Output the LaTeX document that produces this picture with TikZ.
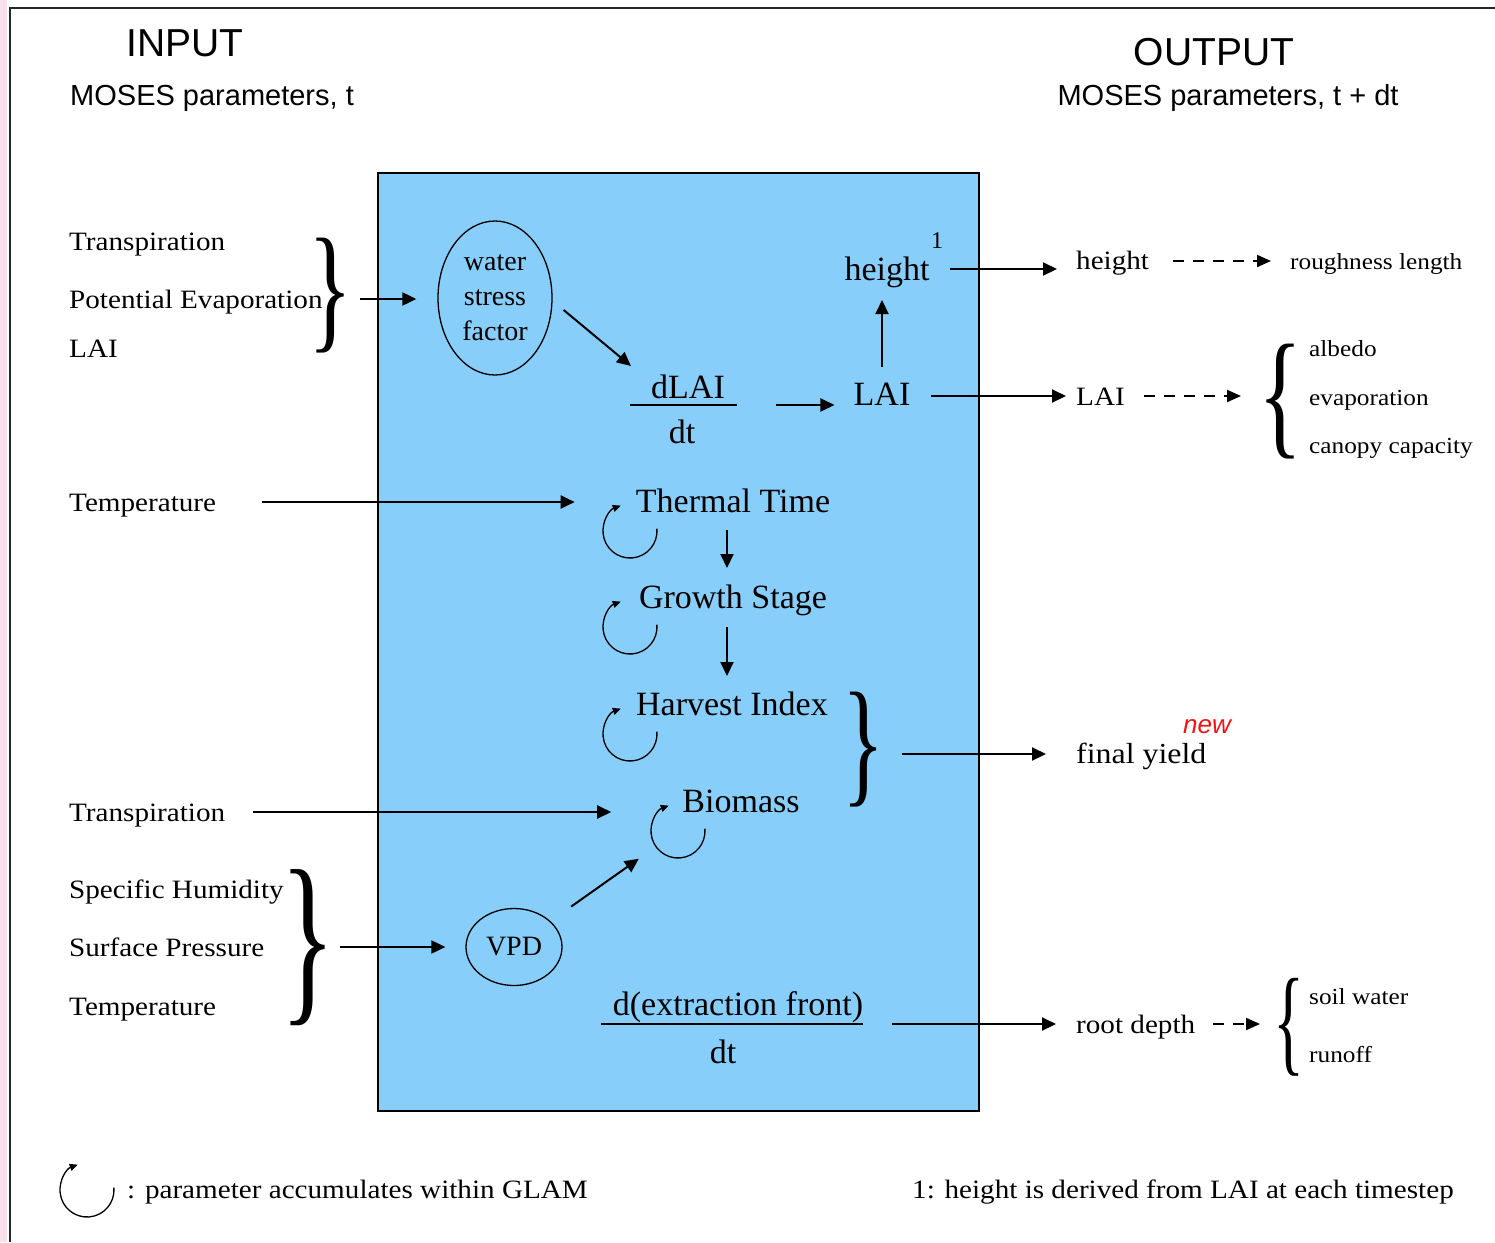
\documentclass[tikz,border=0pt]{standalone}
\usepackage{graphicx}
\usepackage{fontspec}
\setmainfont{Liberation Serif}
\setsansfont{Liberation Sans}
\newfontfamily\pal[FakeStretch=1.1]{Liberation Serif}
\usetikzlibrary{arrows.meta,shapes.geometric}
\definecolor{skyb}{RGB}{135,206,250}
\definecolor{pinkstrip}{RGB}{248,224,234}
\definecolor{framec}{RGB}{40,40,40}
\definecolor{newred}{RGB}{240,20,20}
\tikzset{
  pal/.style={font=\fontsize{26.5}{30}\pal, inner sep=0pt},
  palsm/.style={font=\fontsize{23}{27}\pal, inner sep=0pt},
  tms/.style={font=\fontsize{34}{40}\selectfont, inner sep=0pt},
  sanslab/.style={font=\fontsize{29}{34}\sffamily, inner sep=0pt},
  sanstitle/.style={font=\fontsize{39}{44}\sffamily, inner sep=0pt},
  arr/.style={line width=2pt, -{Triangle[length=14pt,width=13pt]}},
  darr/.style={line width=2pt, dash pattern=on 11pt off 9pt, -{Triangle[length=14pt,width=12pt]}},
  acc/.style={line width=1.3pt, -{Triangle[length=8pt,width=7pt]}},
  bracebox/.style={inner sep=0pt},
}
\begin{document}
\begin{tikzpicture}[x=1pt,y=-1pt]
\useasboundingbox (0,0) rectangle (1495,1242);
\fill[white] (0,0) rectangle (1495,1242);
\fill[pinkstrip] (0,0) rectangle (7,1242);
\draw[framec, line width=2.5pt] (10,1242) -- (10,8) -- (1495,8);

% titles
\node[sanstitle] (inT) at (185,43) {INPUT};
\node[sanslab, anchor=base west] (inS) at (70,105) {MOSES parameters, t};
\node[sanstitle] (outT) at (1214,52) {OUTPUT};
\node[sanslab, anchor=base] (outS) at (1228,105) {MOSES parameters, t + dt};

% GLAM box
\node[draw, line width=1.5pt, fill=skyb, minimum width=601pt, minimum height=938pt, inner sep=0pt] (glam) at (678.5,642) {};

% left inputs
\node[pal, anchor=base west] (trA) at (69,250) {Transpiration};
\node[pal, anchor=base west] (pe) at (69,308) {Potential Evaporation};
\node[pal, anchor=base west] (laiI) at (69,357) {LAI};
\node[bracebox] (b1) at (331,296) {\resizebox*{44pt}{115pt}{\}}};
\node[pal, anchor=base west] (tempA) at (69,511) {Temperature};
\node[pal, anchor=base west] (trB) at (69,821) {Transpiration};
\node[pal, anchor=base west] (sh) at (69,898) {Specific Humidity};
\node[pal, anchor=base west] (sp) at (69,956) {Surface Pressure};
\node[pal, anchor=base west] (tempB) at (69,1015) {Temperature};
\node[bracebox] (b2) at (308,948) {\resizebox*{55pt}{156pt}{\}}};

% inside box
\node[draw, ellipse, line width=1.3pt, minimum width=114pt, minimum height=154pt, inner sep=0pt,
      align=center, font=\fontsize{28}{35}\selectfont] (wsf) at (495,298) {water\\stress\\factor};
\node[tms, anchor=base] (dlai) at (688,398) {dLAI};
\coordinate (frL) at (630,405);
\coordinate (frR) at (737,405);
\draw[line width=1.5pt] (frL) -- (frR);
\node[tms, anchor=base] (dlaidt) at (682,443) {dt};
\node[tms, anchor=base] (laiB) at (882,405) {LAI};
\node[tms, anchor=base] (hgtB) at (887,280) {height};
\node[font=\fontsize{24}{28}\selectfont, inner sep=0pt] (sup1) at (937,241) {1};
\node[tms, anchor=base] (tt) at (733,512) {Thermal Time};
\node[tms, anchor=base] (gs) at (733,608) {Growth Stage};
\node[tms, anchor=base] (hi) at (732,715) {Harvest Index};
\node[tms, anchor=base] (bio) at (741,812) {Biomass};
\node[bracebox] (b3) at (863,750) {\resizebox*{42pt}{115pt}{\}}};
\node[draw, ellipse, line width=1.3pt, minimum width=96pt, minimum height=77pt, inner sep=0pt,
      font=\fontsize{28}{32}\selectfont] (vpd) at (514,947) {VPD};
\node[tms, anchor=base] (dxf) at (738,1015) {d(extraction front)};
\coordinate (xfL) at (601,1024);
\coordinate (xfR) at (863,1024);
\draw[line width=1.5pt] (xfL) -- (xfR);
\node[tms, anchor=base] (dxfdt) at (723,1063) {dt};

% accumulation symbols
\coordinate (accTT) at (630,531);
\coordinate (accGS) at (630,627);
\coordinate (accHI) at (630,734);
\node[circle, minimum size=54pt, inner sep=0pt] (accBio) at (678,831) {};
\coordinate (accL) at (87,1190);
\foreach \c in {accTT,accGS,accHI,accBio,accL}{
  \draw[acc] (\c) ++(-5:27) arc[start angle=-5, end angle=250, radius=27];
}

% outputs
\node[pal, anchor=base west] (hgtO) at (1076,269) {height};
\node[palsm, anchor=base west] (rough) at (1290,269) {roughness length};
\node[pal, anchor=base west] (laiO) at (1076,405) {LAI};
\node[bracebox] (b4) at (1280,402) {\resizebox*{44pt}{115pt}{\{}};
\node[palsm, anchor=base west] (alb) at (1309,356) {albedo};
\node[palsm, anchor=base west] (evap) at (1309,405) {evaporation};
\node[palsm, anchor=base west] (cc) at (1309,453) {canopy capacity};
\node[font=\fontsize{29}{34}\pal, inner sep=0pt, anchor=base west] (fy) at (1076,763) {final yield};
\node[font=\fontsize{26}{30}\sffamily\itshape, text=newred, inner sep=0pt, anchor=base west] (new) at (1183,733) {new};
\node[pal, anchor=base west] (rd) at (1076,1033) {root depth};
\node[bracebox] (b5) at (1289,1027) {\resizebox*{31pt}{98pt}{\{}};
\node[palsm, anchor=base west] (sw) at (1309,1004) {soil water};
\node[palsm, anchor=base west] (ro) at (1309,1062) {runoff};

% footer
\node[pal, anchor=base west] (legend) at (127,1198) {: parameter accumulates within GLAM};
\node[pal, anchor=base west] (note) at (912,1198) {1: height is derived from LAI at each timestep};

% connectors
\draw[arr] ([shift={(29,3)}]b1.center) -- ([shift={(-21,1)}]wsf.west);
\draw[arr] ([shift={(46,-9)}]tempA.base east) -- ([shift={(-61,-10)}]tt.base west);
\draw[arr] ([shift={(28,-9)}]trB.base east) -- ([shift={(-71,0)}]bio.base west);
\draw[arr] ([shift={(32,-1)}]b2.center) -- ([shift={(-20,0)}]vpd.west);
\draw[arr] ([shift={(11,12)}]wsf.east) -- ([shift={(-20,-32)}]dlai.base west);
\draw[arr] ([shift={(39,0)}]frR) -- ([shift={(-19,0)}]laiB.base west);
\draw[arr] ([shift={(0,-38)}]laiB.base) -- ([shift={(-5,20)}]hgtB.base);
\draw[arr] ([shift={(-6,18)}]tt.base) -- ([shift={(-6,-40)}]gs.base);
\draw[arr] ([shift={(-6,19)}]gs.base) -- ([shift={(-5,-39)}]hi.base);
\draw[arr, shorten <=70pt, shorten >=48pt] (vpd.center) -- (accBio.center);
\draw[arr] ([shift={(20,-11)}]hgtB.base east) -- ([shift={(-19,0)}]hgtO.base west);
\draw[arr] ([shift={(20,-9)}]laiB.base east) -- ([shift={(-10,-9)}]laiO.base west);
\draw[arr] ([shift={(39,4)}]b3.center) -- ([shift={(-30,-9)}]fy.base west);
\draw[arr] ([shift={(29,0)}]xfR) -- ([shift={(-20,-9)}]rd.base west);
\draw[darr] ([shift={(24,-8)}]hgtO.base east) -- ([shift={(-19,-8)}]rough.base west);
\draw[darr] ([shift={(19,-9)}]laiO.base east) -- ([shift={(-39,-6)}]b4.center);
\draw[darr] ([shift={(18,-9)}]rd.base east) -- ([shift={(-29,-3)}]b5.center);
\end{tikzpicture}
\end{document}
